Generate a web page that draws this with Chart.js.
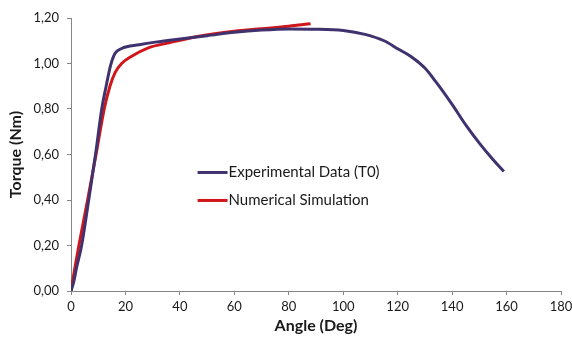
<!DOCTYPE html>
<html><head><meta charset="utf-8">
<script src="https://cdn.jsdelivr.net/npm/chart.js@4"></script>
<style>html,body{margin:0;padding:0;background:#fff}#wrap{width:572px;height:344px}</style>
</head><body><div id="wrap"><canvas id="c" width="572" height="344"></canvas></div>
<script>
const expAngle = [0, 1, 2, 3.9, 6.5, 9.0, 11.3, 12.9, 14.5, 16.2, 18.6, 25, 31, 40, 50, 60, 70, 80, 90, 100, 108, 115, 120, 125, 130, 134, 140, 145, 150, 155, 159];
const expTorque = [0, 0.04, 0.1, 0.2, 0.4, 0.6, 0.8, 0.9, 0.99, 1.045, 1.066, 1.082, 1.094, 1.108, 1.122, 1.137, 1.147, 1.152, 1.151, 1.145, 1.128, 1.1, 1.065, 1.03, 0.98, 0.92, 0.82, 0.73, 0.65, 0.578, 0.525];
const simAngle = [0, 1.4, 2.9, 6.1, 9.2, 12.2, 14.3, 16.2, 18.6, 22.3, 28.4, 36, 47, 60, 70, 80, 88];
const simTorque = [0, 0.1, 0.2, 0.4, 0.6, 0.8, 0.9, 0.96, 1.0, 1.032, 1.069, 1.091, 1.12, 1.142, 1.153, 1.164, 1.175];
const xTicks = [0, 20, 40, 60, 80, 100, 120, 140, 160, 180];
const yTicks = [0, 0.2, 0.4, 0.6, 0.8, 1.0, 1.2];
const seriesNames = ['Experimental Data (T0)', 'Numerical Simulation'];
const seriesColors = ['#40326e', '#d0161b'];

const toPts = (xs, ys) => xs.map((x, i) => ({x, y: ys[i]}));
const FONT = 'Lato, "Open Sans", sans-serif';

const legendPlugin = {
  id: 'innerLegend',
  afterDatasetsDraw(chart) {
    const ctx = chart.ctx;
    const xs = chart.scales.x, ys = chart.scales.y;
    const x0 = xs.getPixelForValue(46.5), x1 = xs.getPixelForValue(57.5);
    const rows = [ys.getPixelForValue(0.521), ys.getPixelForValue(0.398)];
    ctx.save();
    chart.data.datasets.forEach((ds, i) => {
      const y = rows[i];
      ctx.strokeStyle = ds.borderColor; ctx.lineWidth = 3;
      ctx.beginPath(); ctx.moveTo(x0, y); ctx.lineTo(x1, y); ctx.stroke();
      ctx.fillStyle = '#1a1a1a';
      ctx.font = '15px ' + FONT;
      ctx.textBaseline = 'middle'; ctx.textAlign = 'left';
      ctx.fillText(ds.label, x1 + 1, y);
    });
    ctx.restore();
  }
};

new Chart(document.getElementById('c'), {
  type: 'line',
  data: {
    datasets: [
      {label: seriesNames[0], data: toPts(expAngle, expTorque), borderColor: seriesColors[0], borderWidth: 3, pointRadius: 0, cubicInterpolationMode: 'monotone', fill: false},
      {label: seriesNames[1], data: toPts(simAngle, simTorque), borderColor: seriesColors[1], borderWidth: 3, pointRadius: 0, cubicInterpolationMode: 'monotone', fill: false}
    ]
  },
  options: {
    responsive: false, animation: false, devicePixelRatio: 1,
    layout: {padding: {top: 18, right: 11, left: 0, bottom: 0}},
    plugins: {legend: {display: false}, tooltip: {enabled: false}},
    scales: {
      x: {
        type: 'linear', min: 0, max: 180,
        afterBuildTicks: s => { s.ticks = xTicks.map(v => ({value: v})); },
        afterFit: s => { s.height = 53; s.paddingRight = 0; s.paddingLeft = 0; },
        grid: {drawOnChartArea: false, drawTicks: true, tickLength: 4, color: '#868686'},
        border: {color: '#868686', width: 1},
        ticks: {color: '#1a1a1a', font: {family: FONT, size: 13}, padding: 4, maxRotation: 0},
        title: {display: true, text: 'Angle (Deg)', color: '#1a1a1a', font: {family: FONT, size: 16, weight: 'bold'}, padding: {top: 0, bottom: 9}}
      },
      y: {
        type: 'linear', min: 0, max: 1.2,
        afterBuildTicks: s => { s.ticks = yTicks.map(v => ({value: v})); },
        afterFit: s => { s.width = 71; s.paddingTop = 0; s.paddingBottom = 0; },
        grid: {drawOnChartArea: false, drawTicks: true, tickLength: 4, color: '#868686'},
        border: {color: '#868686', width: 1},
        ticks: {color: '#1a1a1a', font: {family: FONT, size: 13}, padding: 8, callback: v => v.toFixed(2).replace('.', ',')},
        title: {display: true, text: 'Torque (Nm)', color: '#1a1a1a', font: {family: FONT, size: 16, weight: 'bold'}, padding: {top: 6, bottom: 0}}
      }
    }
  },
  plugins: [legendPlugin]
});
</script></body></html>
